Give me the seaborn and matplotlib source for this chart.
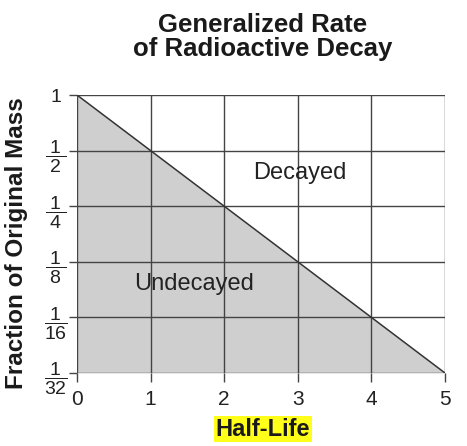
import numpy as np
import pandas as pd
import seaborn as sns
import matplotlib
matplotlib.use("Agg")
import matplotlib.pyplot as plt

# data
halfLives = [0, 1, 2, 3, 4, 5]
fractionLeft = [1, 1/2, 1/4, 1/8, 1/16, 1/32]
yTickLabels = ['1', r'$\dfrac{1}{\:2\:}$', r'$\dfrac{1}{\:4\:}$', r'$\dfrac{1}{\:8\:}$',
               r'$\dfrac{1}{16}$', r'$\dfrac{1}{32}$']
xTickLabels = ['0', '1', '2', '3', '4', '5']

sns.set_theme(style='white')
plt.rcParams['font.family'] = ['Liberation Sans', 'DejaVu Sans']
plt.rcParams['mathtext.fontset'] = 'custom'
plt.rcParams['mathtext.rm'] = 'Liberation Sans'
plt.rcParams['mathtext.default'] = 'regular'

df = pd.DataFrame({'HalfLife': halfLives, 'Fraction': fractionLeft})

fig = plt.figure(figsize=(4.67, 4.46), dpi=100)
ax = fig.add_axes([77/467, 1 - 373/446, 368/467, 278/446])

ax.fill_between(df['HalfLife'], df['Fraction'], fractionLeft[-1],
                color='#cfcfcf', zorder=1, linewidth=0)
sns.lineplot(data=df, x='HalfLife', y='Fraction', ax=ax, color='#333333',
             linewidth=1.1, zorder=3)

ax.set_yscale('log', base=2)
ax.set_xlim(0, 5)
ax.set_ylim(fractionLeft[-1], 1)
ax.set_xticks(halfLives)
ax.set_xticklabels(xTickLabels)
ax.set_yticks(fractionLeft)
ax.set_yticklabels(yTickLabels)
ax.minorticks_off()

ax.grid(True, color='#444444', linewidth=1.0, zorder=2)
ax.set_axisbelow(False)
for s in ax.spines.values():
    s.set_visible(False)

ax.tick_params(axis='x', length=6.5, width=1.0, color='#444444', pad=5.5,
               labelsize=15, bottom=True, labelcolor='#222222')
ax.tick_params(axis='y', length=6, width=1.0, color='#444444', pad=9.5,
               labelsize=14, left=True, labelcolor='#222222')
for lbl in ax.get_yticklabels():
    lbl.set_horizontalalignment('center')
ax.get_yticklabels()[0].set_fontsize(14)

ax.set_xlabel('')
ax.set_ylabel('')

ax.text(3.03, 0.38, 'Decayed', fontsize=17, ha='center', va='center',
        color='#222222')
ax.text(1.59, 0.095, 'Undecayed', fontsize=17, ha='center', va='center',
        color='#222222')

fig.text(263/467, 1 - 37/446, 'Generalized Rate\nof Radioactive Decay',
         ha='center', va='center', fontsize=18.5, fontweight='bold',
         linespacing=1.0, color='#1a1a1a')
fig.text(263/467, 1 - 429/446, 'Half-Life', ha='center', va='center',
         fontsize=17, fontweight='bold', color='#1a1a1a',
         bbox=dict(facecolor='#ffff1a', edgecolor='none', pad=1.0))
fig.text(17/467, 1 - 243/446, 'Fraction of Original Mass', rotation=90,
         ha='center', va='center', fontsize=17.5, fontweight='bold',
         color='#1a1a1a')

fig.savefig('out.png', dpi=100)
